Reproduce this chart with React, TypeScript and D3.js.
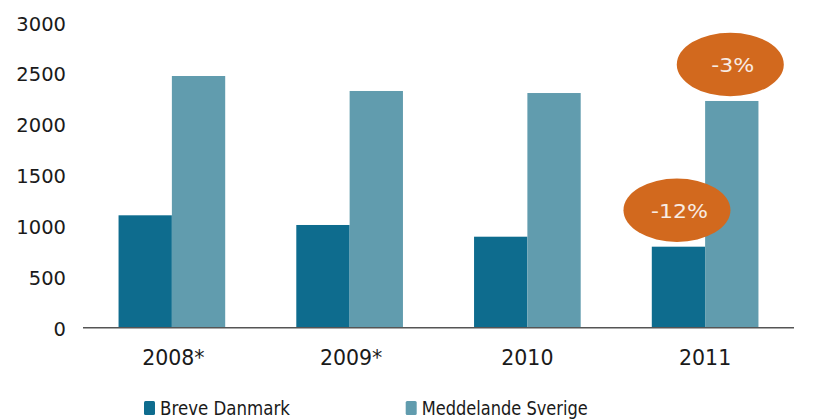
import React, { useEffect, useRef } from 'react';
import * as d3 from 'd3';

const years = ['2008*', '2009*', '2010', '2011'];
const seriesNames = ['Breve Danmark', 'Meddelande Sverige'];
const breveDanmark = [1103, 1008, 893, 795];
const meddelandeSverige = [2470, 2323, 2303, 2225];
const yTicks = [0, 500, 1000, 1500, 2000, 2500, 3000];
const changes = [
  { series: 0, year: '2011', label: '-12%' },
  { series: 1, year: '2011', label: '-3%' },
];

const colors = ['#0e6c8e', '#619cae'];
const bubbleColor = '#d2691e';

const App = () => {
  const ref = useRef<SVGSVGElement>(null);

  useEffect(() => {
    const svg = d3.select(ref.current);
    svg.selectAll('*').remove();

    const values = [breveDanmark, meddelandeSverige];
    const font = '"DejaVu Sans", Verdana, sans-serif';

    const x0 = d3.scaleBand()
      .domain(years)
      .range([83, 794])
      .paddingInner(0.4)
      .paddingOuter(0.2);

    const x1 = d3.scaleBand()
      .domain(seriesNames)
      .range([0, x0.bandwidth()])
      .padding(0);

    const y = d3.scaleLinear()
      .domain([0, 3000])
      .range([327.7, 22]);

    // bars
    seriesNames.forEach((name, s) => {
      svg.append('g')
        .selectAll('rect')
        .data(years)
        .enter()
        .append('rect')
        .attr('x', d => x0(d)! + x1(name)!)
        .attr('y', (d, i) => y(values[s][i]))
        .attr('width', x1.bandwidth())
        .attr('height', (d, i) => y(0) - y(values[s][i]))
        .attr('fill', colors[s]);
    });

    // y axis labels
    svg.append('g')
      .selectAll('text')
      .data(yTicks)
      .enter()
      .append('text')
      .attr('x', 66)
      .attr('y', d => y(d) + 2)
      .attr('text-anchor', 'end')
      .attr('dominant-baseline', 'central')
      .style('font-family', font)
      .style('font-size', '19.5px')
      .attr('fill', '#1a1a1a')
      .text(d => d);

    // x axis line
    svg.append('line')
      .attr('x1', 83)
      .attr('x2', 794)
      .attr('y1', y(0))
      .attr('y2', y(0))
      .attr('stroke', '#555')
      .attr('stroke-width', 1.5);

    // x labels
    svg.append('g')
      .selectAll('text')
      .data(years)
      .enter()
      .append('text')
      .attr('x', d => x0(d)! + x0.bandwidth() / 2 + (d.endsWith('*') ? 1.5 : 0))
      .attr('y', 357.7)
      .attr('text-anchor', 'middle')
      .attr('dominant-baseline', 'central')
      .style('font-family', font)
      .style('font-size', '20.5px')
      .attr('fill', '#1a1a1a')
      .text(d => d);

    // change bubbles
    const labelWidths: Record<string, number> = { '-12%': 57, '-3%': 43 };
    changes.forEach(c => {
      const i = years.indexOf(c.year);
      const cx = x0(c.year)! + x1(seriesNames[c.series])! + x1.bandwidth() / 2 - 1.5;
      const cy = y(values[c.series][i]) - 36.5;
      svg.append('ellipse')
        .attr('cx', cx)
        .attr('cy', cy)
        .attr('rx', 53.5)
        .attr('ry', 31.7)
        .attr('fill', bubbleColor);
      svg.append('text')
        .attr('x', cx + 2.5 - labelWidths[c.label] / 2)
        .attr('y', cy + 1)
        .attr('dominant-baseline', 'central')
        .attr('textLength', labelWidths[c.label])
        .attr('lengthAdjust', 'spacingAndGlyphs')
        .style('font-family', font)
        .style('font-size', '20px')
        .attr('fill', '#f8ebe2')
        .text(c.label);
    });

    // legend
    const legendX = [144, 405.7];
    const legendWidths = [130, 166];
    seriesNames.forEach((name, s) => {
      const g = svg.append('g').attr('transform', `translate(${legendX[s]}, 401)`);
      g.append('rect')
        .attr('width', 11)
        .attr('height', 14)
        .attr('rx', 1.5)
        .attr('fill', colors[s]);
      g.append('text')
        .attr('x', 16)
        .attr('y', 14)
        .attr('textLength', legendWidths[s])
        .attr('lengthAdjust', 'spacingAndGlyphs')
        .style('font-family', font)
        .style('font-size', '19.5px')
        .attr('fill', '#1a1a1a')
        .text(name);
    });
  }, []);

  return (
    <svg
      ref={ref}
      width={816}
      height={420}
      style={{ position: 'absolute', left: 0, top: 0, background: '#fff' }}
    ></svg>
  );
};

export default App;
